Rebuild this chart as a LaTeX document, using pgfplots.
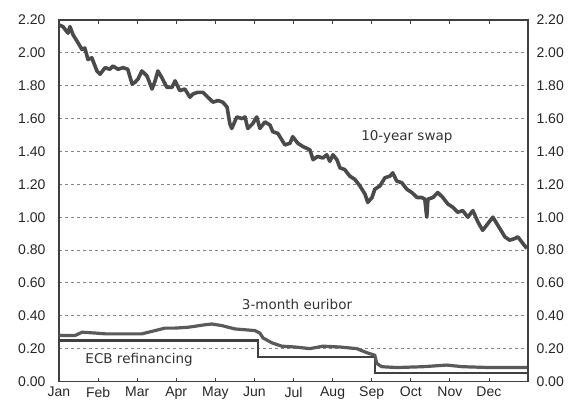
\documentclass[border=0pt]{standalone}
\usepackage{fontspec}
\setmainfont{Liberation Sans}
\newfontfamily\labfont{DejaVu Sans}
\usepackage{pgfplots}
\pgfplotsset{compat=1.18}
\definecolor{swapc}{HTML}{4A4A4A}
\definecolor{eurc}{HTML}{5A5A5A}
\definecolor{ecbc}{HTML}{404040}
\definecolor{gridc}{HTML}{858585}
\definecolor{axc}{HTML}{404040}
\begin{document}
\begin{tikzpicture}
\path[use as bounding box] (-59pt,-26.5pt) rectangle (518pt,381.5pt);
\pgfplotsset{common/.style={
  at={(0pt,0pt)}, anchor=south west, scale only axis,
  width=469pt, height=361.5pt,
  xmin=0, xmax=12, ymin=0, ymax=2.2,
  ytick={0,0.2,0.4,0.6,0.8,1.0,1.2,1.4,1.6,1.8,2.0,2.2},
  /pgf/number format/assume math mode=true,
  yticklabel={\pgfmathprintnumber[fixed,fixed zerofill,precision=2]{\tick}},
  yticklabel style={font=\fontsize{14}{16}\selectfont, text=black!85},
  axis line style={draw=axc, line width=1.4pt},
}}
\begin{axis}[common,
  xtick={0,1,2,3,4,5,6,7,8,9,10,11,12},
  xticklabels={Jan,Feb,Mar,Apr,May,Jun,Jul,Aug,Sep,Oct,Nov,Dec,{}},
  xticklabel style={font=\fontsize{14}{16}\selectfont, text=black!85, yshift=-2pt},
  yticklabel style={xshift=-10pt},
  ymajorgrids, grid style={gridc, line width=0.9pt, dash pattern=on 3pt off 3pt},
  xmajorgrids=false,
  x tick style={draw=axc, line width=0.8pt}, major tick length=4pt,
  y tick style={draw=none},
  tick align=inside,
  clip=false,
]
\addplot[ecbc, line width=2.4pt] coordinates {
(0,0.25) (5.09,0.25) (5.09,0.15) (8.08,0.15) (8.08,0.05) (12,0.05)};
\addplot[eurc, line width=3.2pt, line join=round] coordinates {
(0,0.283) (0.08,0.28) (0.41,0.28) (0.59,0.30) (0.92,0.295) (1.18,0.29)
(1.61,0.29) (2.12,0.29) (2.46,0.31) (2.71,0.325) (2.97,0.325) (3.30,0.33)
(3.73,0.345) (3.91,0.35) (4.17,0.34) (4.50,0.32) (5.01,0.31) (5.14,0.295)
(5.22,0.265) (5.45,0.235) (5.70,0.215) (6.04,0.21) (6.42,0.20) (6.75,0.215)
(7.19,0.21) (7.62,0.20) (7.88,0.175) (8.08,0.16) (8.13,0.11) (8.26,0.09)
(8.64,0.085) (9.31,0.09) (9.92,0.10) (10.33,0.09) (11.02,0.085) (12,0.085)};
\addplot[swapc, line width=3.6pt, line join=round] coordinates {
(0,2.17) (0.10,2.16) (0.23,2.12) (0.28,2.16) (0.36,2.11) (0.49,2.06)
(0.59,2.02) (0.66,2.03) (0.74,1.96) (0.84,1.97) (0.97,1.89) (1.05,1.87)
(1.18,1.91) (1.30,1.90) (1.38,1.92) (1.51,1.90) (1.64,1.91) (1.76,1.90)
(1.87,1.81) (1.94,1.82) (2.02,1.84) (2.12,1.89) (2.25,1.86) (2.38,1.78)
(2.46,1.83) (2.53,1.89) (2.63,1.85) (2.76,1.79) (2.89,1.79) (2.97,1.83)
(3.09,1.77) (3.22,1.78) (3.35,1.73) (3.43,1.75) (3.55,1.76) (3.68,1.76)
(3.81,1.73) (3.94,1.70) (4.07,1.71) (4.19,1.70) (4.30,1.67) (4.37,1.57)
(4.42,1.54) (4.55,1.61) (4.68,1.60) (4.76,1.61) (4.83,1.54) (4.96,1.57)
(5.06,1.61) (5.14,1.54) (5.27,1.58) (5.40,1.56) (5.47,1.52) (5.60,1.51)
(5.78,1.44) (5.91,1.45) (5.98,1.49) (6.11,1.45) (6.24,1.43) (6.42,1.41)
(6.50,1.35) (6.62,1.37) (6.75,1.36) (6.85,1.38) (6.93,1.34) (7.01,1.38)
(7.11,1.35) (7.19,1.30) (7.31,1.29) (7.44,1.25) (7.57,1.23) (7.70,1.19)
(7.83,1.14) (7.90,1.09) (8.01,1.12) (8.08,1.17) (8.21,1.19) (8.34,1.24)
(8.47,1.25) (8.54,1.27) (8.64,1.22) (8.77,1.21) (8.90,1.17) (9.03,1.15)
(9.16,1.12) (9.28,1.12) (9.36,1.11) (9.41,1.00) (9.44,1.11) (9.57,1.12)
(9.69,1.15) (9.82,1.12) (9.95,1.08) (10.08,1.06) (10.20,1.03) (10.33,1.04)
(10.46,1.00) (10.59,1.04) (10.72,0.97) (10.84,0.92) (10.97,0.96) (11.10,1.00)
(11.23,0.95) (11.41,0.88) (11.53,0.86) (11.66,0.87) (11.74,0.88) (11.87,0.84)
(11.97,0.81)};
\node[font=\labfont\fontsize{13.5}{16}\selectfont, text=black!80] at (axis cs:8.9,1.49) {10-year swap};
\node[font=\labfont\fontsize{13.5}{16}\selectfont, text=black!80] at (axis cs:6.09,0.466) {3-month euribor};
\node[font=\labfont\fontsize{13.5}{16}\selectfont, text=black!80] at (axis cs:2.05,0.13) {ECB refinancing};
\end{axis}
\begin{axis}[common,
  axis x line=none, axis y line*=right,
  yticklabel style={xshift=5pt},
  y tick style={draw=none},
]
\end{axis}
\end{tikzpicture}
\end{document}
